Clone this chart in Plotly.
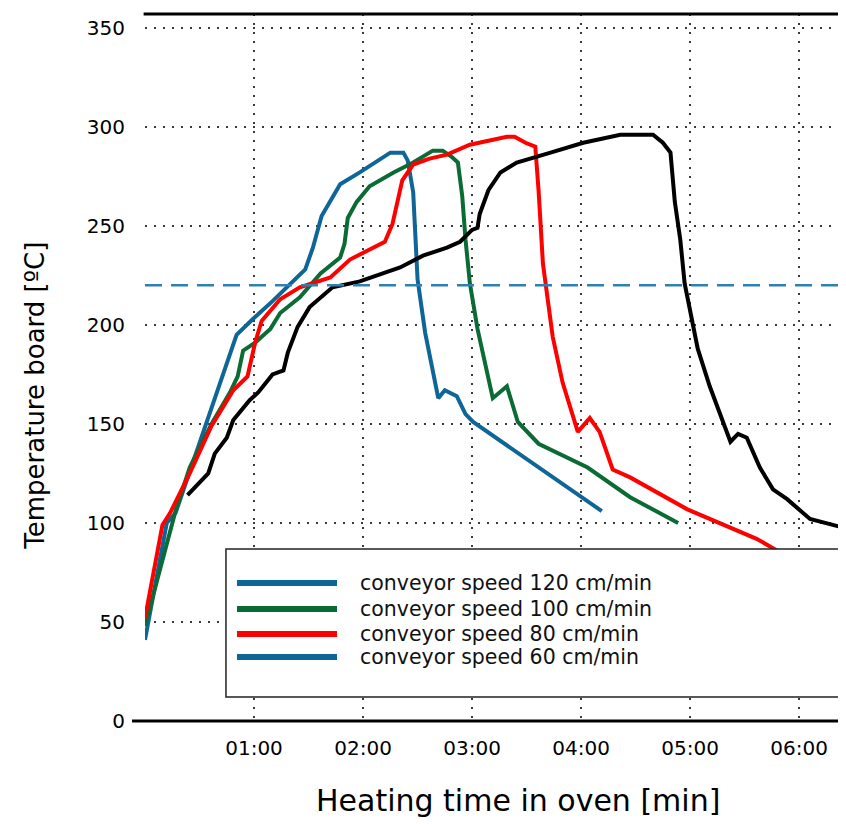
import plotly.graph_objects as go

# ---------------- data (time in minutes, temperature in ºC) ----------------
t_120 = [0.0, 0.20, 0.28, 0.84, 0.99, 1.17, 1.47, 1.54, 1.62, 1.79, 1.97, 2.13, 2.25, 2.37,
         2.41, 2.46, 2.50, 2.57, 2.69, 2.75, 2.86, 2.94, 3.01, 4.19]
T_120 = [41, 100, 105, 195, 203, 212, 228, 239, 255, 271, 277, 283, 287, 287,
         283, 267, 223, 196, 163, 167, 164, 155, 151, 106]

t_100 = [0.0, 0.28, 0.41, 0.61, 0.78, 0.85, 0.90, 1.01, 1.15, 1.24, 1.42, 1.61, 1.79, 1.83,
         1.86, 1.94, 2.06, 2.28, 2.46, 2.64, 2.73, 2.81, 2.87, 2.91, 2.94, 2.98, 3.05, 3.12,
         3.19, 3.32, 3.42, 3.61, 4.06, 4.45, 4.89]
T_100 = [48, 106, 128, 150, 166, 174, 187, 191, 198, 206, 214, 226, 234, 241,
         254, 262, 270, 277, 282, 288, 288, 285, 282, 265, 243, 221, 198, 181,
         163, 169, 151, 140, 128, 113, 100]

t_80 = [0.0, 0.16, 0.23, 0.41, 0.61, 0.81, 0.94, 1.01, 1.07, 1.24, 1.42, 1.70, 1.88, 2.20,
        2.27, 2.36, 2.46, 2.61, 2.77, 2.98, 3.32, 3.39, 3.49, 3.58, 3.61, 3.65, 3.74, 3.83,
        3.97, 4.08, 4.17, 4.29, 4.45, 4.97, 5.61, 5.80, 6.15]
T_80 = [52, 99, 105, 125, 149, 167, 174, 191, 202, 213, 219, 224, 233, 242,
        251, 273, 281, 284, 286, 291, 295, 295, 292, 290, 268, 231, 194, 171,
        146, 153, 146, 127, 123, 107, 92, 86, 76]

t_60 = [0.39, 0.46, 0.58, 0.64, 0.75, 0.81, 0.96, 1.04, 1.17, 1.27, 1.31, 1.40, 1.51, 1.72,
        1.97, 2.34, 2.55, 2.77, 2.89, 3.00, 3.05, 3.07, 3.15, 3.26, 3.41, 3.72, 4.02, 4.36,
        4.66, 4.75, 4.82, 4.86, 4.91, 4.95, 5.02, 5.07, 5.18, 5.29, 5.37, 5.44, 5.52, 5.64,
        5.76, 5.89, 6.01, 6.10, 6.45]
T_60 = [114, 118, 125, 135, 143, 152, 162, 166, 175, 177, 186, 199, 209, 219,
        222, 229, 235, 239, 242, 248, 249, 256, 268, 277, 282, 287, 292, 296,
        296, 292, 287, 262, 243, 221, 203, 188, 169, 152, 141, 145, 143, 128,
        117, 112, 106, 102, 97]

series_names = ["conveyor speed 120 cm/min", "conveyor speed 100 cm/min",
                "conveyor speed 80 cm/min", "conveyor speed 60 cm/min"]
legend_colors = ["#0E6698", "#0B6B35", "#FF0000", "#0E6698"]
line_colors = ["#0E6698", "#0B6B35", "#FF0000", "#000000"]

threshold = 220
x_tickvals = [1, 2, 3, 4, 5, 6]
x_ticktext = ["01:00", "02:00", "03:00", "04:00", "05:00", "06:00"]
y_tickvals = [0, 50, 100, 150, 200, 250, 300, 350]

# ---------------- figure ----------------
FONT = "DejaVu Sans, sans-serif"
fig = go.Figure()
for name, xs, ys, col in zip(series_names, [t_120, t_100, t_80, t_60],
                             [T_120, T_100, T_80, T_60], line_colors):
    fig.add_trace(go.Scatter(x=xs, y=ys, mode="lines", name=name,
                             line=dict(color=col, width=4), showlegend=False))

fig.add_hline(y=threshold, line=dict(color="#2F80B5", width=2.5, dash="17px,9px"))

grid = dict(showgrid=True, gridcolor="#3a3a3a", gridwidth=2, griddash="2px,7px",
            zeroline=False, showline=False, ticks="")
fig.update_xaxes(range=[0, 6.43], tickvals=x_tickvals, ticktext=x_ticktext,
                 tickfont=dict(size=20, color="black", family=FONT),
                 ticklabelstandoff=13, **grid)
fig.update_yaxes(range=[0, 357], tickvals=y_tickvals,
                 tickfont=dict(size=20, color="black", family=FONT),
                 ticklabelstandoff=19, **grid)

# axis frame (left, bottom, top)
shapes = [
    dict(type="line", xref="paper", yref="paper", x0=0, x1=0, y0=-0.027, y1=1,
         line=dict(color="black", width=3), layer="above"),
    dict(type="line", xref="paper", yref="paper", x0=-0.0185, x1=1, y0=0, y1=0,
         line=dict(color="black", width=3), layer="above"),
    dict(type="line", xref="paper", yref="paper", x0=-0.002, x1=1, y0=1, y1=1,
         line=dict(color="black", width=3), layer="above"),
    # legend box
    dict(type="rect", xref="paper", yref="paper", x0=0.1155, x1=0.9943, y0=0.0339, y1=0.2433,
         fillcolor="white", line=dict(color="#222", width=1.5), layer="above"),
]
leg_y = [0.1952, 0.1584, 0.1231, 0.0905]
annotations = []
for name, col, yy in zip(series_names, legend_colors, leg_y):
    shapes.append(dict(type="line", xref="paper", yref="paper", x0=0.1312, x1=0.2739,
                       y0=yy, y1=yy, line=dict(color=col, width=6), layer="above"))
    annotations.append(dict(xref="paper", yref="paper", x=0.3039, y=yy, text=name,
                            showarrow=False, xanchor="left", yanchor="middle",
                            font=dict(size=20.5, color="#111", family=FONT)))

annotations += [
    dict(xref="paper", yref="paper", x=0.532, y=-0.112,
         text="Heating time in oven [min]", showarrow=False,
         xanchor="center", yanchor="middle",
         font=dict(size=30, color="black", family=FONT)),
    dict(xref="paper", yref="paper", x=-0.157, y=0.46,
         text="Temperature board [ºC]", showarrow=False, textangle=-90,
         xanchor="center", yanchor="middle",
         font=dict(size=26, color="black", family=FONT)),
]

# the page body adds an 8px offset, so the figure is 8px smaller on each side
fig.update_layout(width=838, height=816, margin=dict(l=137, r=0, t=6, b=103),
                  plot_bgcolor="white", paper_bgcolor="white", showlegend=False,
                  shapes=shapes, annotations=annotations,
                  font=dict(family=FONT, color="black"))

fig.write_html("out.html")
